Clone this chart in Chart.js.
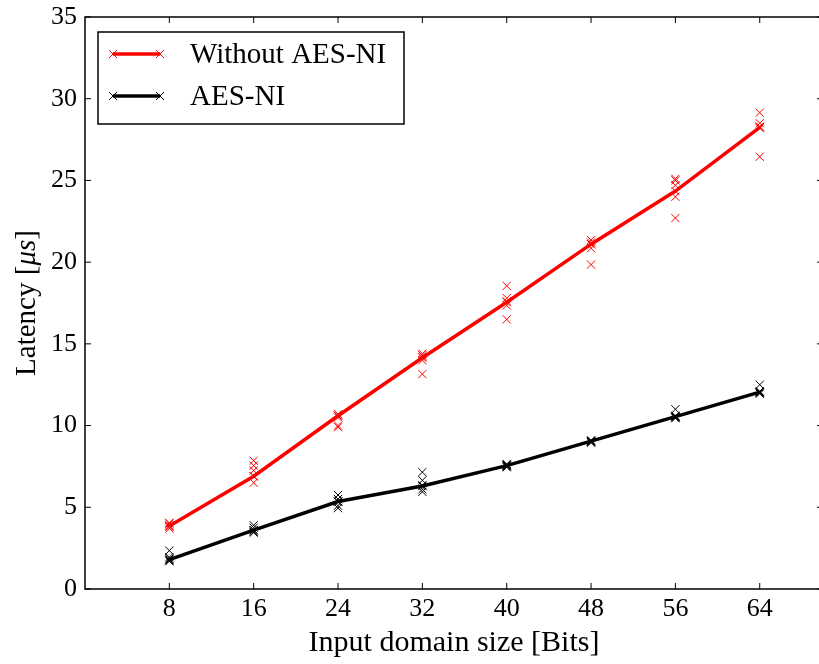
<!DOCTYPE html>
<html>
<head>
<meta charset="utf-8">
<script src="https://cdn.jsdelivr.net/npm/chart.js@4"></script>
<style>
html, body { margin: 0; padding: 0; overflow: hidden; background: #fff; }
#wrap { width: 819px; height: 664px; overflow: hidden; position: relative; }
#chart { position: absolute; left: 0; top: 0; }
</style>
</head>
<body>
<div id="wrap"><canvas id="chart" width="840" height="664"></canvas></div>
<script>
const bits = [8, 16, 24, 32, 40, 48, 56, 64];
const yTicks = [0, 5, 10, 15, 20, 25, 30, 35];
const seriesNames = ['Without AES-NI', 'AES-NI'];
const seriesColors = ['#ff0000', '#000000'];

// mean latency per input size (line)
const withoutMean = [3.85, 6.9, 10.6, 14.15, 17.55, 21.1, 24.35, 28.25];
const aesMean = [1.8, 3.6, 5.35, 6.3, 7.55, 9.05, 10.55, 12.05];

// single runs (x markers), one row per input size
const withoutRuns = [
    [3.7, 3.8, 3.9, 4.0, 4.05],
    [7.85, 7.55, 7.25, 6.9, 6.5],
    [10.7, 10.6, 10.5, 10.0, 9.9],
    [14.4, 14.3, 14.2, 14.0, 13.15],
    [18.55, 17.8, 17.6, 17.35, 16.5],
    [21.35, 21.2, 21.1, 20.85, 19.85],
    [25.1, 25.0, 24.7, 24.0, 22.7],
    [29.15, 28.5, 28.3, 28.2, 26.45]
];
const aesRuns = [
    [2.35, 1.95, 1.85, 1.75, 1.7],
    [3.9, 3.75, 3.6, 3.5, 3.45],
    [5.75, 5.5, 5.35, 5.1, 4.95],
    [7.15, 6.65, 6.35, 6.1, 5.95],
    [7.65, 7.55, 7.5, 7.45, 7.6],
    [9.1, 9.05, 9.0, 8.95, 9.05],
    [11.0, 10.6, 10.55, 10.5, 10.45],
    [12.5, 12.1, 12.05, 12.0, 11.95]
];

const SERIF = "'Liberation Serif', 'Times New Roman', serif";

function toPoints(values) {
    return bits.map((b, i) => ({ x: b, y: values[i] }));
}
function runPoints(runs) {
    return bits.flatMap((b, i) => runs[i].map(v => ({ x: b, y: v })));
}

function cross(ctx, x, y, r) {
    ctx.beginPath();
    ctx.moveTo(x - r, y - r); ctx.lineTo(x + r, y + r);
    ctx.moveTo(x - r, y + r); ctx.lineTo(x + r, y - r);
    ctx.stroke();
}

// frame with inward ticks, boxed legend and the y title
const framePlugin = {
    id: 'frame',
    afterDraw(chart) {
        const { ctx, chartArea: a, scales: { x, y } } = chart;
        ctx.save();
        ctx.strokeStyle = '#000';
        ctx.lineWidth = 1;
        ctx.beginPath();
        bits.forEach(b => {
            const px = x.getPixelForValue(b);
            ctx.moveTo(px, a.bottom); ctx.lineTo(px, a.bottom - 6);
            ctx.moveTo(px, a.top); ctx.lineTo(px, a.top + 6);
        });
        yTicks.forEach(v => {
            const py = y.getPixelForValue(v);
            ctx.moveTo(a.left, py); ctx.lineTo(a.left + 6, py);
            ctx.moveTo(a.right, py); ctx.lineTo(a.right - 6, py);
        });
        ctx.stroke();
        ctx.lineWidth = 1.5;
        ctx.strokeRect(a.left, a.top, a.right - a.left, a.bottom - a.top);

        // legend
        const lx = a.left + 13, ly = a.top + 15;
        ctx.fillStyle = '#fff';
        ctx.fillRect(lx, ly, 306, 92);
        ctx.lineWidth = 1.5;
        ctx.strokeRect(lx, ly, 306, 92);
        ctx.font = '29px ' + SERIF;
        ctx.textBaseline = 'middle';
        seriesNames.forEach((name, i) => {
            const yy = ly + 22 + i * 42;
            ctx.strokeStyle = seriesColors[i];
            ctx.lineWidth = 3.5;
            ctx.beginPath();
            ctx.moveTo(lx + 15, yy); ctx.lineTo(lx + 62, yy);
            ctx.stroke();
            ctx.lineWidth = 1;
            cross(ctx, lx + 15, yy, 4);
            cross(ctx, lx + 62, yy, 4);
            ctx.fillStyle = '#000';
            ctx.fillText(name, lx + 92, yy + 1);
        });

        // y title with italic unit
        const parts = [['Latency [', ''], ['\u03bcs', 'italic '], [']', '']];
        ctx.save();
        ctx.translate(27, (a.top + a.bottom) / 2);
        ctx.rotate(-Math.PI / 2);
        let total = 0;
        parts.forEach(p => { ctx.font = p[1] + '29px ' + SERIF; total += ctx.measureText(p[0]).width; });
        let cx = -total / 2;
        ctx.textAlign = 'left';
        ctx.fillStyle = '#000';
        parts.forEach(p => {
            ctx.font = p[1] + '29px ' + SERIF;
            ctx.fillText(p[0], cx, 0);
            cx += ctx.measureText(p[0]).width;
        });
        ctx.restore();
        ctx.restore();
    }
};

new Chart(document.getElementById('chart').getContext('2d'), {
    data: {
        datasets: [
            {
                type: 'scatter',
                data: runPoints(withoutRuns),
                borderColor: seriesColors[0],
                pointStyle: 'crossRot',
                pointRadius: 5.8,
                pointBorderWidth: 1,
                order: 3
            },
            {
                type: 'scatter',
                data: runPoints(aesRuns),
                borderColor: seriesColors[1],
                pointStyle: 'crossRot',
                pointRadius: 5.8,
                pointBorderWidth: 1,
                order: 4
            },
            {
                type: 'line',
                label: seriesNames[0],
                data: toPoints(withoutMean),
                borderColor: seriesColors[0],
                borderWidth: 3.5,
                pointStyle: 'crossRot',
                pointRadius: 5.8,
                pointBorderWidth: 1,
                tension: 0,
                order: 1
            },
            {
                type: 'line',
                label: seriesNames[1],
                data: toPoints(aesMean),
                borderColor: seriesColors[1],
                borderWidth: 3.5,
                pointStyle: 'crossRot',
                pointRadius: 5.8,
                pointBorderWidth: 1,
                tension: 0,
                order: 2
            }
        ]
    },
    options: {
        responsive: false,
        animation: false,
        layout: { padding: { top: 17, right: 17, left: 0, bottom: 0 } },
        plugins: { legend: { display: false }, tooltip: { enabled: false } },
        scales: {
            x: {
                type: 'linear',
                min: 0,
                max: 70,
                afterBuildTicks: s => { s.ticks = bits.map(v => ({ value: v })); },
                afterFit: s => { s.height = 75; s.paddingLeft = 0; s.paddingRight = 0; },
                grid: { display: false, drawTicks: false },
                border: { display: false },
                ticks: { color: '#000', padding: 5, font: { family: SERIF, size: 26 } },
                title: {
                    display: true,
                    text: 'Input domain size [Bits]',
                    color: '#000',
                    font: { family: SERIF, size: 30 },
                    padding: { top: 0, bottom: 3 }
                }
            },
            y: {
                min: 0,
                max: 35,
                afterBuildTicks: s => { s.ticks = yTicks.map(v => ({ value: v })); },
                afterFit: s => { s.width = 85; s.paddingTop = 0; s.paddingBottom = 0; },
                grid: { display: false, drawTicks: false },
                border: { display: false },
                ticks: { color: '#000', padding: 8, font: { family: SERIF, size: 26 } }
            }
        }
    },
    plugins: [framePlugin]
});
</script>
</body>
</html>
